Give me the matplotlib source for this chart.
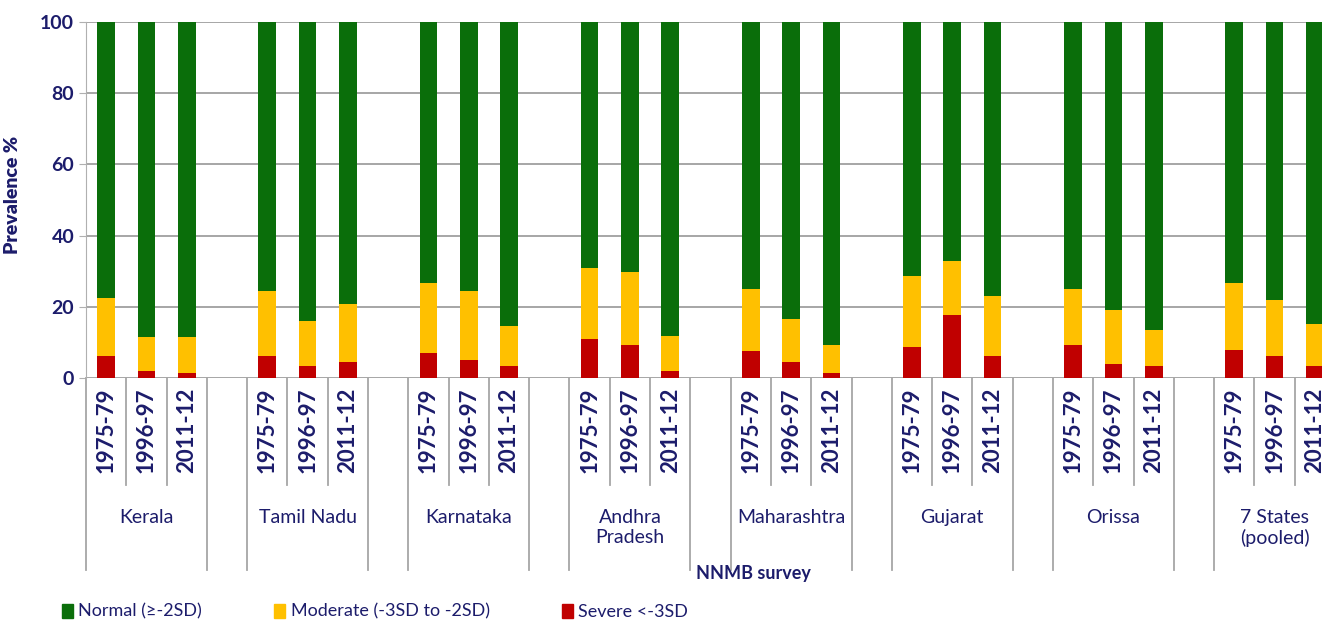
import numpy as np
import matplotlib.pyplot as plt
from matplotlib.patches import Patch

plt.rcParams['font.family'] = ['Lato', 'DejaVu Sans']

# NNMB survey data, % of children
states = ['Kerala', 'Tamil Nadu', 'Karnataka', 'Andhra\nPradesh', 'Maharashtra',
          'Gujarat', 'Orissa', '7 States\n(pooled)']
periods = ['1975-79', '1996-97', '2011-12']

severe = [[6.3, 2.1, 1.4], [6.3, 3.3, 4.5], [7.0, 5.1, 3.3], [10.9, 9.2, 2.1],
          [7.5, 4.4, 1.4], [8.6, 17.8, 6.3], [9.3, 3.9, 3.3], [7.9, 6.3, 3.3]]
moderate = [[16.3, 9.4, 10.1], [18.0, 12.6, 16.3], [19.6, 19.2, 11.4], [19.9, 20.7, 9.6],
            [17.5, 12.1, 7.9], [20.1, 15.1, 16.8], [15.7, 15.1, 10.3], [18.7, 15.7, 11.9]]
normal = [[77.4, 88.5, 88.5], [75.7, 84.1, 79.2], [73.4, 75.7, 85.3], [69.2, 70.1, 88.3],
          [75.0, 83.5, 90.7], [71.3, 67.1, 76.9], [75.0, 81.0, 86.4], [73.4, 78.0, 84.8]]

legend_labels = ['Normal (\u2265-2SD)', 'Moderate (-3SD to -2SD)', 'Severe <-3SD']
colors = ['#0a6e0a', '#ffc000', '#c00000']
navy = '#1c1c6b'

# slot positions: 3 bars per state + one empty slot between states
pos = np.array([[g * 4 + k for k in range(3)] for g in range(len(states))]).ravel()
sev = np.array(severe).ravel()
mod = np.array(moderate).ravel()
nor = np.array(normal).ravel()

fig = plt.figure(figsize=(13.22, 6.28), dpi=100)
ax = fig.add_axes([86 / 1322, 1 - 378 / 628, 1249 / 1322, 356 / 628])

w = 0.44
ax.bar(pos, sev, w, color=colors[2], zorder=3)
ax.bar(pos, mod, w, bottom=sev, color=colors[1], zorder=3)
ax.bar(pos, nor, w, bottom=sev + mod, color=colors[0], zorder=3)

ax.set_xlim(-0.5, 30.5)
ax.set_ylim(0, 100)
ax.set_yticks(range(0, 101, 20))
ax.grid(axis='y', color='#a6a6a6', linewidth=1.4, zorder=0)
for s in ['top', 'right', 'bottom']:
    ax.spines[s].set_visible(False)
ax.spines['left'].set_color('#b0b0b0')
ax.tick_params(axis='y', colors='#b0b0b0', length=5, labelcolor=navy, labelsize=14)
for t in ax.get_yticklabels():
    t.set_fontweight('bold')
ax.set_ylabel('Prevalence %', color=navy, fontsize=14, fontweight='heavy')
ax.yaxis.set_label_coords(-0.052, 0.515)

ax.set_xticks(pos, [periods[i % 3] for i in range(len(pos))], rotation=90,
              fontsize=16, fontweight='bold', color=navy)
ax.tick_params(axis='x', length=0, pad=7)

# multi-level category separators
trans = ax.get_xaxis_transform()
for g in range(len(states)):
    x0 = g * 4 - 0.5
    for xl in [x0, x0 + 3]:
        ax.plot([xl, xl], [0, -0.539], transform=trans, color='#a6a6a6', lw=1.3, clip_on=False)
    for xs in [x0 + 1, x0 + 2]:
        ax.plot([xs, xs], [0, -0.30], transform=trans, color='#a6a6a6', lw=1.3, clip_on=False)
    ax.text(g * 4 + 1, -0.367, states[g], transform=trans, ha='center', va='top',
            fontsize=14, color=navy, linespacing=1.25)

ax.text(0.534, -0.548, 'NNMB survey', transform=ax.transAxes, ha='center', va='center',
        fontsize=13, fontweight='bold', color=navy)

handles = [Patch(color=c) for c in colors]
fig.legend(handles, legend_labels, loc='lower left', bbox_to_anchor=(46 / 1322, -0.013),
           ncol=3, frameon=False, fontsize=13, handlelength=0.6, handleheight=0.8,
           handletextpad=0.3, columnspacing=4.0, labelcolor=navy)

fig.savefig('out.png', dpi=100)
